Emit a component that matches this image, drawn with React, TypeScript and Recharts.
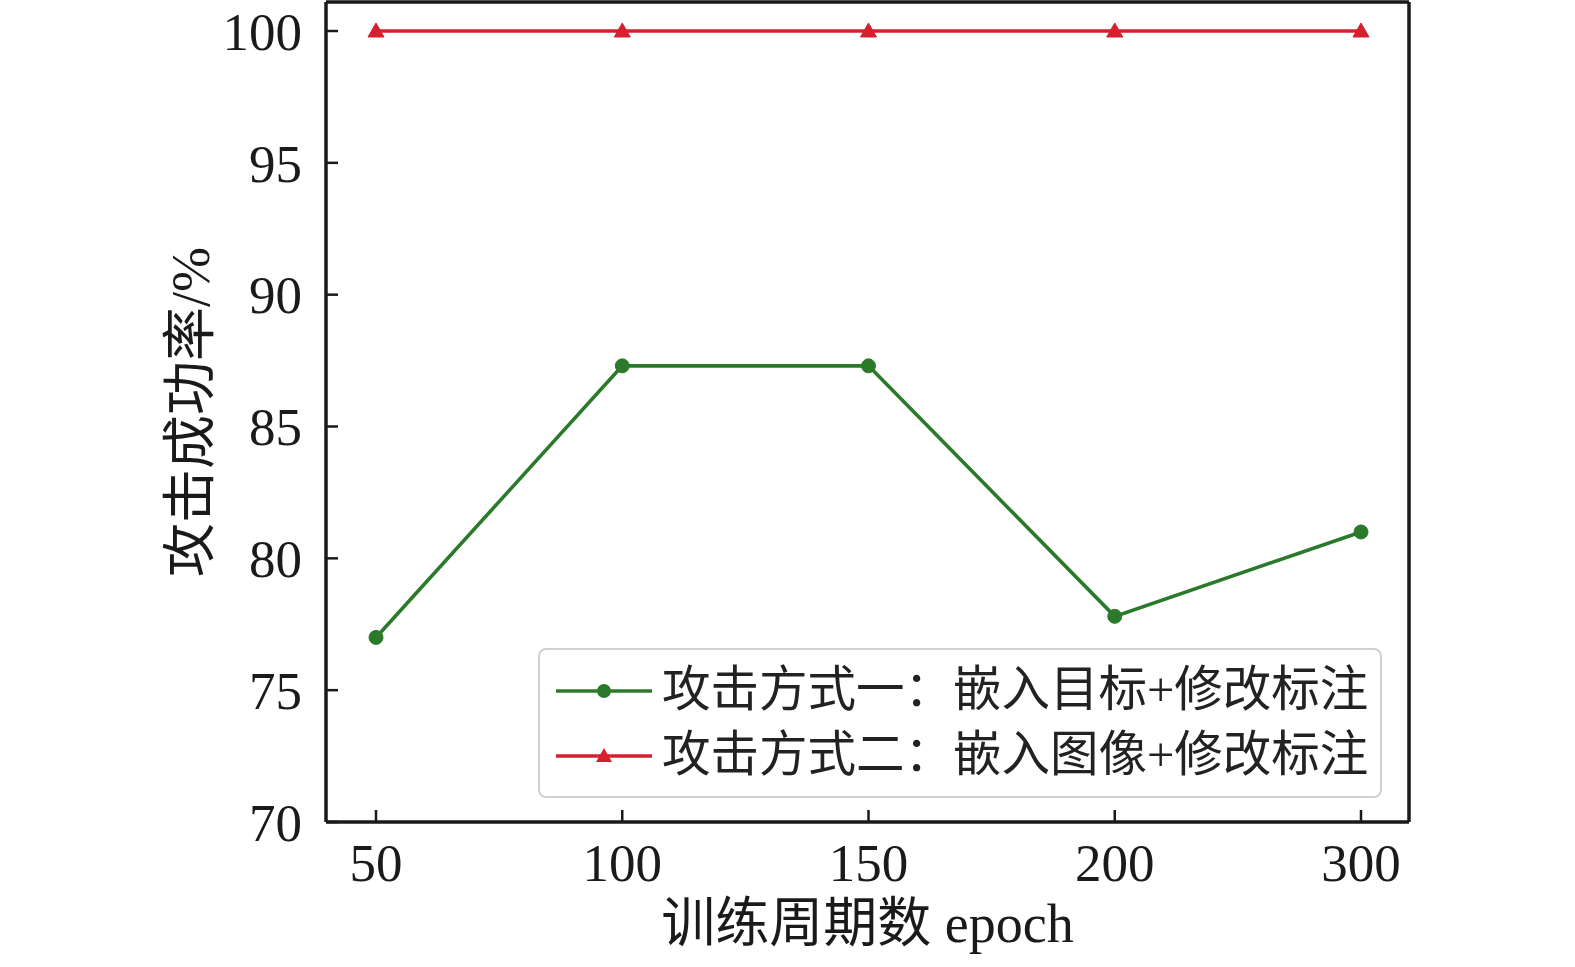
import React from 'react';
import { LineChart, Line, XAxis, YAxis, Legend } from 'recharts';

const epochs = ['50', '100', '150', '200', '300'];
const method1 = [77.0, 87.3, 87.3, 77.8, 81.0];
const method2 = [100, 100, 100, 100, 100];
const yTicks = [70, 75, 80, 85, 90, 95, 100];
const seriesNames = ['攻击方式一：嵌入目标+修改标注', '攻击方式二：嵌入图像+修改标注'];
const xTitle = '训练周期数 epoch';
const yTitle = '攻击成功率/%';

const GREEN = '#2b7a2b';
const RED = '#d62030';
const FONT = "'Liberation Serif', 'Times New Roman', 'Noto Sans CJK SC', serif";

const data = epochs.map((e, i) => ({ epoch: e, m1: method1[i], m2: method2[i] }));

const Triangle = (props: any) => {
  const { cx, cy, fill } = props;
  if (cx == null || cy == null) return null;
  const s = 8;
  return (
    <polygon
      points={`${cx},${cy - s} ${cx - s},${cy + s * 0.75} ${cx + s},${cy + s * 0.75}`}
      fill={fill}
      stroke={fill}
      strokeWidth={1}
    />
  );
};

const LegendContent = () => {
  const items = [
    { name: seriesNames[0], color: GREEN, marker: 'circle' },
    { name: seriesNames[1], color: RED, marker: 'triangle' },
  ];
  return (
    <div
      style={{
        border: '2px solid #d0d0d0',
        borderRadius: 8,
        background: 'rgba(255,255,255,0.85)',
        padding: '8px 0 8px 0',
        width: 844,
        boxSizing: 'border-box',
        fontFamily: FONT,
      }}
    >
      {items.map((it) => (
        <div key={it.name} style={{ display: 'flex', alignItems: 'center', height: 65 }}>
          <svg width={122} height={40} style={{ flex: 'none' }}>
            <line x1={16} y1={20} x2={112} y2={20} stroke={it.color} strokeWidth={3.5} />
            {it.marker === 'circle' ? (
              <circle cx={64} cy={20} r={7} fill={it.color} />
            ) : (
              <polygon points="64,12 56,26 72,26" fill={it.color} />
            )}
          </svg>
          <span style={{ fontSize: 48.5, color: '#222', whiteSpace: 'nowrap', lineHeight: 1 }}>{it.name}</span>
        </div>
      ))}
    </div>
  );
};

export default function App() {
  return (
    <div style={{ position: 'absolute', left: 0, top: 0, width: 1575, height: 967, background: '#fff' }}>
      <LineChart
        width={1575}
        height={967}
        data={data}
        margin={{ top: 1, right: 165, bottom: 0, left: 0 }}
        style={{ fontFamily: FONT }}
      >
        <XAxis
          dataKey="epoch"
          type="category"
          height={145}
          padding={{ left: 50, right: 48 }}
          axisLine={{ stroke: '#1a1a1a', strokeWidth: 3.5 }}
          tickLine={{ stroke: '#1a1a1a', strokeWidth: 2.5 }}
          tickSize={-12}
          tickMargin={33}
          tick={{ fontSize: 53, fill: '#1a1a1a', fontFamily: FONT }}
          label={{ value: xTitle, position: 'insideBottom', offset: 25, fontSize: 54, fill: '#1a1a1a', fontFamily: FONT }}
        />
        <XAxis
          xAxisId="top"
          dataKey="epoch"
          orientation="top"
          height={1}
          padding={{ left: 50, right: 48 }}
          axisLine={{ stroke: '#1a1a1a', strokeWidth: 3.5 }}
          tick={false}
          tickLine={false}
        />
        <YAxis
          width={326}
          domain={[70, 101.1]}
          ticks={yTicks}
          allowDataOverflow
          axisLine={{ stroke: '#1a1a1a', strokeWidth: 3.5 }}
          tickLine={{ stroke: '#1a1a1a', strokeWidth: 2.5 }}
          tickSize={-12}
          tickMargin={36}
          tick={{ fontSize: 53, fill: '#1a1a1a', fontFamily: FONT }}
          label={{
            value: yTitle,
            angle: -90,
            position: 'insideLeft',
            offset: 190,
            fontSize: 54,
            fill: '#1a1a1a',
            fontFamily: FONT,
            style: { textAnchor: 'middle' },
          }}
        />
        <YAxis
          yAxisId="right"
          orientation="right"
          width={1}
          domain={[70, 101.1]}
          axisLine={{ stroke: '#1a1a1a', strokeWidth: 3.5 }}
          tick={false}
          tickLine={false}
        />
        <Legend
          layout="horizontal"
          verticalAlign="middle"
          align="center"
          wrapperStyle={{ left: 538, top: 648, width: 844 }}
          content={<LegendContent />}
        />
        <Line
          dataKey="m1"
          name={seriesNames[0]}
          stroke={GREEN}
          strokeWidth={3.6}
          dot={{ r: 7, fill: GREEN, stroke: GREEN, strokeWidth: 1 }}
          activeDot={false}
          isAnimationActive={false}
        />
        <Line
          dataKey="m2"
          name={seriesNames[1]}
          stroke={RED}
          strokeWidth={3.6}
          dot={<Triangle fill={RED} />}
          activeDot={false}
          isAnimationActive={false}
        />
      </LineChart>
    </div>
  );
}
